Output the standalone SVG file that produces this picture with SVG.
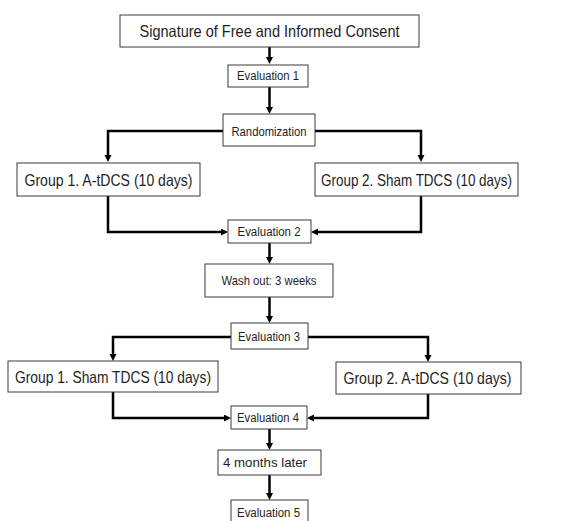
<svg xmlns="http://www.w3.org/2000/svg" width="563" height="521" viewBox="0 0 563 521">
<defs>
<style>
.box{fill:#fff;stroke:#3a3a3a;stroke-width:1}
.t{font-family:"Liberation Sans",Arial,sans-serif;fill:#1e1e1e;text-anchor:middle}
.big{font-size:16.5px}
.small{font-size:12px}
.mid{font-size:13px}
.conn{fill:none;stroke:#000;stroke-width:2.5}
</style>
<marker id="ah" markerUnits="userSpaceOnUse" markerWidth="8" markerHeight="8" refX="1" refY="3.5" orient="auto">
<path d="M0,0 L7,3.5 L0,7 z" fill="#000"/>
</marker>
</defs>
<rect width="563" height="521" fill="#fff"/>
<g id="connectors">
<path class="conn" marker-end="url(#ah)" d="M269.5,47 V58"/>
<path class="conn" marker-end="url(#ah)" d="M269.5,87 V108"/>
<path class="conn" marker-end="url(#ah)" d="M223,131 H108 V156"/>
<path class="conn" marker-end="url(#ah)" d="M315,131 H421 V156"/>
<path class="conn" marker-end="url(#ah)" d="M108,196 V232 H222"/>
<path class="conn" marker-end="url(#ah)" d="M421,196 V232 H317"/>
<path class="conn" marker-end="url(#ah)" d="M269.5,243 V258"/>
<path class="conn" marker-end="url(#ah)" d="M269.5,297 V317"/>
<path class="conn" marker-end="url(#ah)" d="M231,337 H113 V355"/>
<path class="conn" marker-end="url(#ah)" d="M308,337 H428 V356"/>
<path class="conn" marker-end="url(#ah)" d="M113,392 V418 H225"/>
<path class="conn" marker-end="url(#ah)" d="M428,394 V418 H313"/>
<path class="conn" marker-end="url(#ah)" d="M269.5,429 V444"/>
<path class="conn" marker-end="url(#ah)" d="M269.5,475 V494"/>
</g>
<g id="consent">
<rect class="box" x="120" y="15" width="299" height="32"/>
<text class="t big" x="269.5" y="37" textLength="260" lengthAdjust="spacingAndGlyphs">Signature of Free and Informed Consent</text>
</g>
<g id="eval1">
<rect class="box" x="228" y="65" width="80" height="22"/>
<text class="t small" x="268" y="80" textLength="62" lengthAdjust="spacingAndGlyphs">Evaluation 1</text>
</g>
<g id="randomization">
<rect class="box" x="223" y="114" width="92" height="32"/>
<text class="t mid" x="269" y="135.5" textLength="75" lengthAdjust="spacingAndGlyphs">Randomization</text>
</g>
<g id="group1a">
<rect class="box" x="17" y="163" width="183" height="33"/>
<text class="t big" x="108.5" y="185.5" textLength="168" lengthAdjust="spacingAndGlyphs">Group 1. A-tDCS (10 days)</text>
</g>
<g id="group2a">
<rect class="box" x="315" y="163" width="203" height="33"/>
<text class="t big" x="416.5" y="185.5" textLength="191" lengthAdjust="spacingAndGlyphs">Group 2. Sham TDCS (10 days)</text>
</g>
<g id="eval2">
<rect class="box" x="228" y="220" width="83" height="23"/>
<text class="t small" x="269" y="236" textLength="63" lengthAdjust="spacingAndGlyphs">Evaluation 2</text>
</g>
<g id="washout">
<rect class="box" x="205" y="264" width="128" height="33"/>
<text class="t mid" x="269" y="285" textLength="95" lengthAdjust="spacingAndGlyphs">Wash out: 3 weeks</text>
</g>
<g id="eval3">
<rect class="box" x="231" y="323" width="77" height="26"/>
<text class="t small" x="269" y="340.5" textLength="62" lengthAdjust="spacingAndGlyphs">Evaluation 3</text>
</g>
<g id="group1b">
<rect class="box" x="8" y="361" width="210" height="31"/>
<text class="t big" x="113" y="382.5" textLength="196" lengthAdjust="spacingAndGlyphs">Group 1. Sham TDCS (10 days)</text>
</g>
<g id="group2b">
<rect class="box" x="336" y="362" width="185" height="32"/>
<text class="t big" x="427.5" y="383.5" textLength="168" lengthAdjust="spacingAndGlyphs">Group 2. A-tDCS (10 days)</text>
</g>
<g id="eval4">
<rect class="box" x="231" y="406" width="76" height="23"/>
<text class="t small" x="268" y="422" textLength="62" lengthAdjust="spacingAndGlyphs">Evaluation 4</text>
</g>
<g id="later">
<rect class="box" x="218" y="450" width="103" height="25"/>
<text class="t mid" x="265" y="467" textLength="84" lengthAdjust="spacingAndGlyphs">4 months later</text>
</g>
<g id="eval5">
<rect class="box" x="231" y="500" width="77" height="30"/>
<text class="t small" x="268.5" y="517" textLength="63" lengthAdjust="spacingAndGlyphs">Evaluation 5</text>
</g>
</svg>
